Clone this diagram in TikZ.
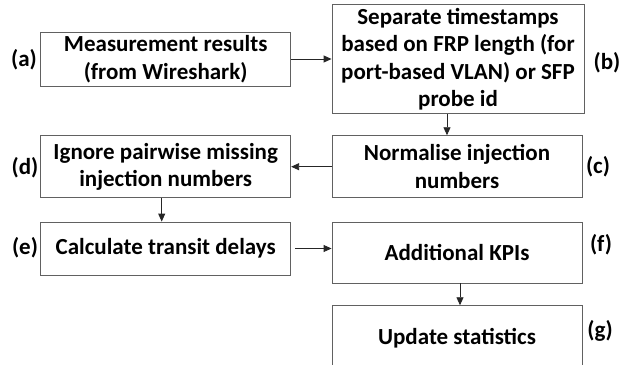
\documentclass[tikz,border=0pt]{standalone}
\usepackage{fontspec}
\setmainfont{Carlito}
\usetikzlibrary{arrows.meta}
\begin{document}
\begin{tikzpicture}[x=1pt,y=-1pt,
  box/.style={draw=black!62, line width=0.9pt, fill=white, align=center, inner sep=0pt,
    minimum width=250pt, font=\fontsize{23}{27.5}\selectfont\bfseries},
  lab/.style={font=\fontsize{23}{27.5}\selectfont\bfseries, inner sep=0pt},
  conn/.style={draw=black!85, line width=0.9pt, -{Triangle[length=8pt,width=7pt]}}]
\clip (0,0) rectangle (628,364);
\fill[white] (0,0) rectangle (628,364);
\node[box, minimum height=54pt] (a) at (165.7,59) {Measurement results\\(from Wireshark)};
\node[box, minimum width=252pt, minimum height=109pt] (b) at (458,59.3) {Separate timestamps\\based on FRP length (for\\port-based VLAN) or SFP\\probe id};
\node[box, minimum height=62pt] (c) at (457,166.7) {Normalise injection\\numbers};
\node[box, minimum height=62pt] (d) at (165.7,166.7) {Ignore pairwise missing\\injection numbers};
\node[box, minimum height=53pt] (e) at (165.7,248.5) {Calculate transit delays};
\node[box, minimum height=61pt] (f) at (457,252.5) {Additional KPIs};
\node[box, minimum height=66pt] (g) at (457,338.7) {Update statistics};
\node[lab] (la) at (24,60) {(a)};
\node[lab] (lb) at (607,63) {(b)};
\node[lab] (lc) at (598,167) {(c)};
\node[lab] (ld) at (25,168) {(d)};
\node[lab] (le) at (25,248) {(e)};
\node[lab] (lf) at (601,245) {(f)};
\node[lab] (lg) at (600,331) {(g)};
\draw[conn] (a.east) -- (a.east -| b.west);
\draw[conn] ([xshift=-11pt]b.south) -- ([xshift=-10pt]c.north);
\draw[conn] (c.west) -- (d.east);
\draw[conn] ([xshift=-4pt]d.south) -- ([xshift=-4pt]e.north);
\draw[conn] ([xshift=4pt]e.east) -- (e.east -| f.west);
\draw[conn] ([xshift=3pt]f.south) -- ([xshift=3pt]g.north);
\end{tikzpicture}
\end{document}
